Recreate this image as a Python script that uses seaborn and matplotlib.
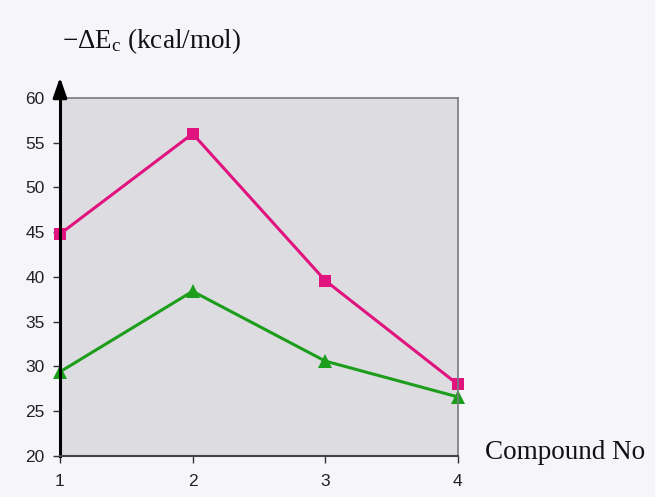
import matplotlib
matplotlib.use("Agg")
import matplotlib.pyplot as plt
import seaborn as sns
import pandas as pd

# data
compounds = [1, 2, 3, 4]
series_a = [44.8, 56.0, 39.6, 28.0]   # magenta squares
series_b = [29.4, 38.4, 30.6, 26.6]   # green triangles
y_ticks = [20, 25, 30, 35, 40, 45, 50, 55, 60]

sns.set_theme(style="white")
plt.rcParams['font.family'] = ['Liberation Sans', 'DejaVu Sans']
plt.rcParams['mathtext.fontset'] = 'custom'
plt.rcParams['mathtext.rm'] = 'Liberation Serif'
plt.rcParams['mathtext.it'] = 'Liberation Serif:italic'

fig = plt.figure(figsize=(6.55, 4.97), dpi=100, facecolor='#f6f5fa')
ax = fig.add_axes([0.0916, 0.0825, 0.6074, 0.7205])
ax.set_facecolor('#dddce1')

df = pd.DataFrame({'x': compounds, 'a': series_a, 'b': series_b})
sns.lineplot(data=df, x='x', y='a', ax=ax, color='#e0137f', lw=2.2,
             marker='s', markersize=9, markeredgewidth=0, clip_on=False)
sns.lineplot(data=df, x='x', y='b', ax=ax, color='#1c9e1c', lw=2.2,
             marker='^', markersize=10.5, markeredgewidth=0, clip_on=False)

ax.set_xlim(1, 4)
ax.set_ylim(20, 60)
ax.set_xticks(compounds)
ax.set_yticks(y_ticks)
ax.set_xlabel('')
ax.set_ylabel('')
ax.tick_params(axis='both', direction='out', length=5, width=1, color='#333333',
               labelsize=12.5, labelcolor='#222222', bottom=True, left=True)
ax.tick_params(axis='x', pad=8)
ax.tick_params(axis='y', pad=6)

for side in ['top', 'right']:
    ax.spines[side].set_color('#7a7a80')
    ax.spines[side].set_linewidth(1.2)
ax.spines['bottom'].set_color('#444444')
ax.spines['bottom'].set_linewidth(1.5)
ax.spines['left'].set_color('black')
ax.spines['left'].set_linewidth(2.2)

# arrow on top of y axis
ax.annotate('', xy=(0, 1.065), xytext=(0, 0.99), xycoords='axes fraction',
            arrowprops=dict(arrowstyle='-|>,head_width=0.35,head_length=1.0',
                            color='black', lw=2.2), annotation_clip=False)

fig.text(0.094, 0.918, r'$-\Delta$E$_\mathrm{c}$ (kcal/mol)', fontsize=19.5,
         family='Liberation Serif', color='#111111', va='center')
fig.text(0.74, 0.09, 'Compound No', fontsize=19.5,
         family='Liberation Serif', color='#111111', va='center')

plt.savefig('out.png', dpi=100, facecolor=fig.get_facecolor())
